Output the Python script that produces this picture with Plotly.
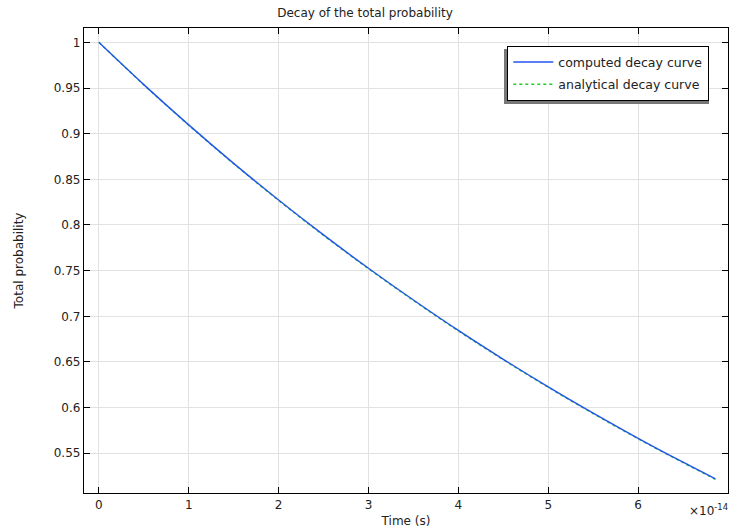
import plotly.graph_objects as go

# Time in units of 1e-14 s
time_vals = [0, 0.5, 1, 1.5, 2, 2.5, 3, 3.5, 4, 4.5, 5, 5.5, 6, 6.5, 6.86]
computed = [1.0, 0.9537, 0.9096, 0.8675, 0.8274, 0.7891, 0.7526, 0.7178,
            0.6845, 0.6529, 0.6227, 0.5939, 0.5664, 0.5402, 0.5220]
analytical = [1.0, 0.9535, 0.9093, 0.8671, 0.8269, 0.7886, 0.7521, 0.7173,
              0.6840, 0.6524, 0.6222, 0.5934, 0.5659, 0.5397, 0.5215]

x_tick_vals = [0, 1, 2, 3, 4, 5, 6]
x_tick_text = ["0", "1", "2", "3", "4", "5", "6"]
y_tick_vals = [0.55, 0.6, 0.65, 0.7, 0.75, 0.8, 0.85, 0.9, 0.95, 1.0]
y_tick_text = ["0.55", "0.6", "0.65", "0.7", "0.75", "0.8", "0.85", "0.9", "0.95", "1"]

FONT = "DejaVu Sans"

fig = go.Figure()
fig.add_trace(go.Scatter(x=time_vals, y=analytical, mode="lines",
                         name="analytical decay curve", legendrank=2, legendgroup="b",
                         line=dict(color="#22cc22", width=1.4, dash="3px,3px", shape="spline")))
fig.add_trace(go.Scatter(x=time_vals, y=computed, mode="lines",
                         name="computed decay curve", legendrank=1, legendgroup="a",
                         line=dict(color="#2255ee", width=1.4, shape="spline")))

axis_common = dict(showgrid=True, gridcolor="#e2e2e2", gridwidth=1,
                   showline=True, linecolor="black", linewidth=1.3, mirror="ticks",
                   ticks="inside", ticklen=6, tickcolor="black", tickwidth=1.3,
                   zeroline=False, tickfont=dict(family=FONT, size=12, color="#222"))

fig.update_xaxes(range=[-0.165, 7.0], tickvals=x_tick_vals, ticktext=x_tick_text,
                 title=dict(text="Time (s)", font=dict(family=FONT, size=12, color="#222"), standoff=6),
                 **axis_common)
fig.update_yaxes(range=[0.5065, 1.0157], tickvals=y_tick_vals, ticktext=y_tick_text,
                 title=dict(text="Total probability", font=dict(family=FONT, size=12, color="#222"), standoff=27),
                 **axis_common)

# legend shadow
fig.add_shape(type="rect", xref="paper", yref="paper",
              x0=(504 - 84) / 644, x1=(709 - 84) / 644,
              y0=(493 - 104) / 465, y1=(493 - 49) / 465,
              fillcolor="#777777", line=dict(width=0), layer="above")

fig.add_annotation(text="×10<sup>-14</sup>", xref="paper", yref="paper",
                   x=1.0, y=-0.015, xanchor="right", yanchor="top", showarrow=False,
                   font=dict(family=FONT, size=12, color="#222"), xshift=2)

fig.update_layout(
    width=730, height=529,
    margin=dict(l=84, r=2, t=28, b=36),
    paper_bgcolor="white", plot_bgcolor="white",
    title=dict(text="Decay of the total probability", x=0.5, xanchor="center",
               y=1 - 13 / 529, yanchor="middle",
               font=dict(family=FONT, size=12, color="#222")),
    legend=dict(x=(507 - 84) / 644, y=(493 - 46) / 465, xanchor="left", yanchor="top",
                bgcolor="white", bordercolor="black", borderwidth=1.3,
                font=dict(family=FONT, size=12.5, color="#222"),
                tracegroupgap=3, itemwidth=40),
    showlegend=True,
)

fig.write_html("out.html")
